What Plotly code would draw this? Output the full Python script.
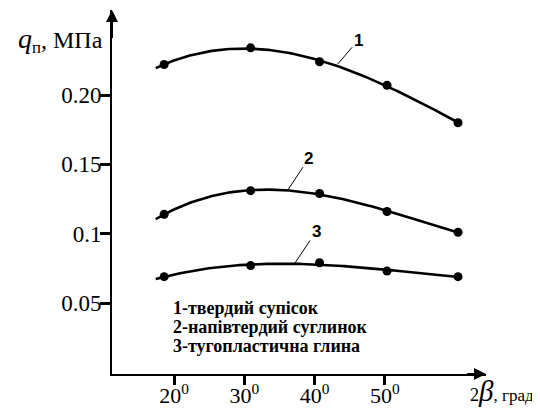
import numpy as np
import plotly.graph_objects as go

# ---- data ----
angles = [18.6, 30.9, 40.7, 50.3, 60.4]          # 2β, degrees
q1 = [0.222, 0.234, 0.224, 0.207, 0.180]          # 1-твердий супісок
q2 = [0.114, 0.131, 0.129, 0.116, 0.101]          # 2-напівтердий суглинок
q3 = [0.069, 0.077, 0.079, 0.073, 0.069]          # 3-тугопластична глина
curve_start = 17.4
x_ticks = [20, 30, 40, 50]
x_tick_text = ["20<sup>0</sup>", "30<sup>0</sup>", "40<sup>0</sup>", "50<sup>0</sup>"]
y_ticks = [0.05, 0.10, 0.15, 0.20]
y_tick_text = ["0.05", "0.1", "0.15", "0.20"]
legend_lines = ["1-твердий супісок", "2-напівтердий суглинок", "3-тугопластична глина"]

XR = [11.18, 64.38]
YR = [-0.0012, 0.2613]

fig = go.Figure()
xs = np.linspace(curve_start, angles[-1], 200)
for q in (q1, q2, q3):
    coef = np.polyfit(angles, q, 3)
    fig.add_trace(go.Scatter(x=xs, y=np.polyval(coef, xs), mode="lines",
                             line=dict(color="black", width=2.6),
                             hoverinfo="skip", showlegend=False, cliponaxis=False))
    fig.add_trace(go.Scatter(x=angles, y=q, mode="markers",
                             marker=dict(color="black", size=9),
                             showlegend=False, cliponaxis=False))

serif = "Liberation Serif"
fig.update_layout(
    width=540, height=410,
    font=dict(family=serif),
    margin=dict(l=104, r=62, t=2, b=44, autoexpand=False),
    plot_bgcolor="white", paper_bgcolor="white",
    showlegend=False,
    xaxis=dict(range=XR, showgrid=False, zeroline=False, showline=True, automargin=False,
               linecolor="black", linewidth=2, ticks="outside", ticklen=9,
               tickwidth=3, tickcolor="black", tickvals=x_ticks,
               ticktext=x_tick_text, tickfont=dict(family=serif, size=22, color="black"),
               ticklabelstandoff=-8),
    yaxis=dict(range=YR, showgrid=False, zeroline=False, showline=True, automargin=False,
               linecolor="black", linewidth=2, ticks="outside", ticklen=10,
               tickwidth=3, tickcolor="black", tickvals=y_ticks,
               ticktext=y_tick_text, tickfont=dict(family=serif, size=23, color="black"),
               ticklabelstandoff=-6),
)

# axis arrows
fig.add_annotation(x=XR[0], y=YR[1], ax=XR[0], ay=0.24, xref="x", yref="y",
                   axref="x", ayref="y", showarrow=True, arrowhead=2, arrowsize=1.2,
                   arrowwidth=2, arrowcolor="black", text="")
fig.add_annotation(x=XR[1], y=YR[0], ax=61.5, ay=YR[0], xref="x", yref="y",
                   axref="x", ayref="y", showarrow=True, arrowhead=2, arrowsize=1.2,
                   arrowwidth=2, arrowcolor="black", text="")

# axis titles
fig.add_annotation(xref="paper", yref="paper", x=-0.02, y=0.918, xanchor="right",
                   yanchor="middle", showarrow=False,
                   text="<i style='font-size:28px'>q</i><sub>п</sub>, МПа",
                   font=dict(family=serif, size=24, color="black"))
fig.add_annotation(xref="paper", yref="paper", x=0.952, y=-0.048, xanchor="left",
                   yanchor="middle", showarrow=False,
                   text="<span style='font-size:18px'>2</span><i style='font-size:29px'>β</i><span style='font-size:17px'>, град</span>",
                   font=dict(family=serif, size=16, color="black"))

# curve labels with leader lines
labels = [("1", 46.2, 0.2395, 43.3, 0.2224),
          ("2", 39.2, 0.1545, 36.2, 0.1315),
          ("3", 40.2, 0.1015, 37.2, 0.0788)]
for txt, tx, ty, px, py in labels:
    fig.add_annotation(x=px, y=py, ax=tx, ay=ty, xref="x", yref="y", axref="x",
                       ayref="y", text="<b>" + txt + "</b>", showarrow=True,
                       arrowhead=0, arrowwidth=1, arrowcolor="black",
                       font=dict(family="Liberation Sans", size=17, color="black"))

# legend text lines
for line, yy in zip(legend_lines, [0.1813, 0.1291, 0.0769]):
    fig.add_annotation(xref="paper", yref="paper", x=0.158, y=yy, xanchor="left",
                       yanchor="middle", align="left", showarrow=False,
                       text="<b>" + line + "</b>",
                       font=dict(family=serif, size=18, color="black"))

fig.write_html("out.html")
